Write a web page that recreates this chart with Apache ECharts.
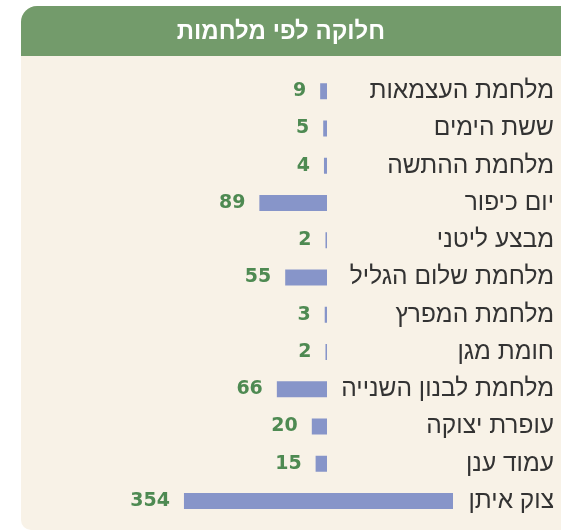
<!DOCTYPE html>
<html>
<head>
<meta charset="utf-8">
<script src="https://cdn.jsdelivr.net/npm/echarts@6/dist/echarts.min.js"></script>
<style>
html,body{margin:0;padding:0;background:#ffffff;}
#chart{width:561px;height:531px;}
</style>
</head>
<body>
<div id="chart"></div>
<script>
var title = 'חלוקה לפי מלחמות';
var categories = ['מלחמת העצמאות','ששת הימים','מלחמת ההתשה','יום כיפור','מבצע ליטני','מלחמת שלום הגליל','מלחמת המפרץ','חומת מגן','מלחמת לבנון השנייה','עופרת יצוקה','עמוד ענן'];
var values = [9,5,4,89,2,55,3,2,66,20,15];
var lastCategory = ['צוק איתן'];
var lastValue = [354];

var pxPerUnit = 0.76;
var rowH = 37.25;
var topRow = 91.25;

var chart = echarts.init(document.getElementById('chart'), null, {renderer:'canvas'});

var labelFont = {fontFamily:'"Liberation Sans", Arial, sans-serif', fontSize:24.5, color:'#333333'};
var valueLabel = {show:true, position:'left', distance:14, color:'#4e8a52', fontFamily:'"DejaVu Sans", Verdana, sans-serif', fontWeight:'bold', fontSize:19};

var g0Right = 561 - 327;
var g0Max = 100;
var g1Right = 561 - 453;
var g1Max = 354;

chart.setOption({
  animation:false,
  backgroundColor:'#ffffff',
  graphic:[
    {type:'rect', shape:{x:21, y:6, width:600, height:524, r:[16,0,0,10]}, style:{fill:'#f8f2e7'}, z:-10},
    {type:'rect', shape:{x:21, y:6, width:600, height:50, r:[16,0,0,0]}, style:{fill:'#739b6b'}, z:-9},
    {type:'text', x:281, y:32, style:{text:title, fill:'#ffffff', font:'bold 24px "Liberation Sans", Arial, sans-serif', textAlign:'center', textVerticalAlign:'middle'}, z:10}
  ],
  grid:[
    {right:g0Right, width:g0Max*pxPerUnit, top:topRow - rowH/2, height:rowH*categories.length, containLabel:false},
    {right:g1Right, width:g1Max*pxPerUnit, top:topRow - rowH/2 + rowH*categories.length, height:rowH, containLabel:false}
  ],
  xAxis:[
    {gridIndex:0, type:'value', min:0, max:g0Max, inverse:true, show:false},
    {gridIndex:1, type:'value', min:0, max:g1Max, inverse:true, show:false}
  ],
  yAxis:[
    {gridIndex:0, type:'category', data:categories, inverse:true, position:'right',
     axisLine:{show:false}, axisTick:{show:false}, splitLine:{show:false},
     axisLabel:Object.assign({align:'right', margin:554-327}, labelFont)},
    {gridIndex:1, type:'category', data:lastCategory, inverse:true, position:'right',
     axisLine:{show:false}, axisTick:{show:false}, splitLine:{show:false},
     axisLabel:Object.assign({align:'right', margin:554-453}, labelFont)}
  ],
  series:[
    {type:'bar', xAxisIndex:0, yAxisIndex:0, data:values, barWidth:16, itemStyle:{color:'#8795c9'}, label:valueLabel},
    {type:'bar', xAxisIndex:1, yAxisIndex:1, data:lastValue, barWidth:16, itemStyle:{color:'#8795c9'}, label:valueLabel}
  ]
});
</script>
</body>
</html>
